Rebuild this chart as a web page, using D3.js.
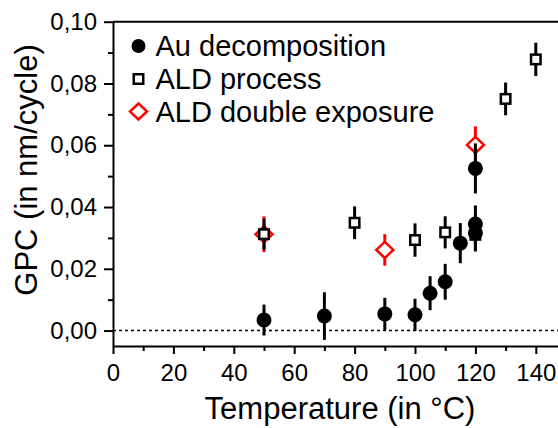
<!DOCTYPE html>
<html>
<head>
<meta charset="utf-8">
<script src="https://cdn.jsdelivr.net/npm/d3@7"></script>
<style>
  body { margin: 0; background: #fff; }
  svg { display: block; font-family: "Liberation Sans", Arial, sans-serif; }
</style>
</head>
<body>
<div id="wrapper"></div>
<script>
// data
const auTemp = [50, 70, 90, 100, 105, 110, 115, 120, 120, 120]
const auGpc  = [0.0034, 0.0047, 0.0054, 0.0051, 0.0121, 0.0158, 0.0283, 0.0525, 0.0345, 0.0316]
const auErr  = [0.005, 0.0077, 0.0052, 0.0052, 0.0055, 0.0058, 0.0065, 0.0081, 0.006, 0.006]

const aldTemp = [50, 80, 100, 110, 120, 130, 140]
const aldGpc  = [0.0312, 0.0349, 0.0293, 0.0318, 0.031, 0.075, 0.0878]
const aldErr  = [0.005, 0.0053, 0.0054, 0.0052, 0.005, 0.0053, 0.0054]

const dblTemp = [50, 90, 120]
const dblGpc  = [0.0312, 0.0261, 0.0601]
const dblErr  = [0.0058, 0.0051, 0.006]

const xTicks = [0, 20, 40, 60, 80, 100, 120, 140]
const xMinor = [10, 30, 50, 70, 90, 110, 130, 150]
const yTicks = [0, 0.02, 0.04, 0.06, 0.08, 0.10]
const yMinor = [0.01, 0.03, 0.05, 0.07, 0.09]

const legendLabels = ["Au decomposition", "ALD process", "ALD double exposure"]

function drawChart() {
    const dimensions = {
        width: 558,
        height: 428,
        margin: { top: 21.7, right: -8, bottom: 82, left: 113 },
    }
    dimensions.boundedWidth = dimensions.width - dimensions.margin.left - dimensions.margin.right
    dimensions.boundedHeight = dimensions.height - dimensions.margin.top - dimensions.margin.bottom

    const wrapper = d3.select("#wrapper")
        .append("svg")
        .attr("width", dimensions.width)
        .attr("height", dimensions.height)

    const bounds = wrapper.append("g")
        .attr("transform", `translate(${dimensions.margin.left}, ${dimensions.margin.top})`)

    const xScale = d3.scaleLinear()
        .domain([0, 150])
        .range([0, dimensions.boundedWidth])

    const yScale = d3.scaleLinear()
        .domain([-0.005, 0.10])
        .range([dimensions.boundedHeight, 0])

    const comma = d3.formatLocale({ decimal: ",", thousands: ".", grouping: [3], currency: ["", ""] })
    const yFormat = comma.format(".2f")

    // dotted zero line
    bounds.append("line")
        .attr("x1", 0).attr("x2", dimensions.boundedWidth)
        .attr("y1", yScale(0)).attr("y2", yScale(0))
        .attr("stroke", "#000")
        .attr("stroke-width", 1.5)
        .attr("stroke-dasharray", "3,3")

    // axes
    bounds.append("g")
        .attr("transform", `translate(0, ${dimensions.boundedHeight})`)
        .call(d3.axisBottom(xScale).tickValues(xTicks).tickSize(8).tickSizeOuter(0).tickPadding(10))
    bounds.append("g")
        .attr("transform", `translate(0, ${dimensions.boundedHeight})`)
        .call(d3.axisBottom(xScale).tickValues(xMinor).tickSize(5).tickSizeOuter(0).tickFormat(""))
        .call(g => g.select(".domain").remove())

    bounds.append("g")
        .call(d3.axisLeft(yScale).tickValues(yTicks).tickSize(9).tickSizeOuter(0).tickPadding(7).tickFormat(yFormat))
    bounds.append("g")
        .call(d3.axisLeft(yScale).tickValues(yMinor).tickSize(5).tickSizeOuter(0).tickFormat(""))
        .call(g => g.select(".domain").remove())

    bounds.selectAll(".domain, .tick line")
        .attr("stroke", "#000")
        .attr("stroke-width", 2)
    bounds.selectAll(".tick text")
        .attr("fill", "#000")
        .style("font-size", "24px")
        .style("font-family", "'Liberation Sans', Arial, sans-serif")

    // frame lines (top, right)
    bounds.append("line")
        .attr("x1", 0).attr("x2", dimensions.boundedWidth)
        .attr("y1", 0).attr("y2", 0)
        .attr("stroke", "#000")
        .attr("stroke-width", 2)
    bounds.append("line")
        .attr("x1", dimensions.boundedWidth).attr("x2", dimensions.boundedWidth)
        .attr("y1", 0).attr("y2", dimensions.boundedHeight)
        .attr("stroke", "#000")
        .attr("stroke-width", 2)

    // axis titles
    wrapper.append("text")
        .attr("x", 340)
        .attr("y", 419)
        .attr("text-anchor", "middle")
        .style("font-size", "31px")
        .text("Temperature (in °C)")

    wrapper.append("text")
        .attr("transform", "translate(37, 170) rotate(-90)")
        .attr("text-anchor", "middle")
        .style("font-size", "31px")
        .text("GPC (in nm/cycle)")

    // series
    function drawErrors(xs, ys, es, color) {
        bounds.append("g").selectAll("line")
            .data(xs)
            .join("line")
            .attr("x1", d => xScale(d))
            .attr("x2", d => xScale(d))
            .attr("y1", (d, i) => yScale(ys[i] - es[i]))
            .attr("y2", (d, i) => yScale(ys[i] + es[i]))
            .attr("stroke", color)
            .attr("stroke-width", 3)
    }

    const diamond = "M0,-8L8.5,0L0,8L-8.5,0Z"

    // ALD double exposure
    drawErrors(dblTemp, dblGpc, dblErr, "#ff0000")
    bounds.append("g").selectAll("path")
        .data(dblTemp)
        .join("path")
        .attr("d", diamond)
        .attr("transform", (d, i) => `translate(${xScale(d)}, ${yScale(dblGpc[i])})`)
        .attr("fill", "#fff")
        .attr("stroke", "#ff0000")
        .attr("stroke-width", 2.5)

    // ALD process
    drawErrors(aldTemp, aldGpc, aldErr, "#000")
    bounds.append("g").selectAll("rect")
        .data(aldTemp)
        .join("rect")
        .attr("x", d => xScale(d) - 4.75)
        .attr("y", (d, i) => yScale(aldGpc[i]) - 4.75)
        .attr("width", 9.5)
        .attr("height", 9.5)
        .attr("fill", "#fff")
        .attr("stroke", "#000")
        .attr("stroke-width", 2.5)

    // Au decomposition
    drawErrors(auTemp, auGpc, auErr, "#000")
    bounds.append("g").selectAll("circle")
        .data(auTemp)
        .join("circle")
        .attr("cx", d => xScale(d))
        .attr("cy", (d, i) => yScale(auGpc[i]))
        .attr("r", 7.5)
        .attr("fill", "#000")

    // legend
    const legend = wrapper.append("g")
    const rowY = [46, 79, 111.5]
    const rows = legend.selectAll("g")
        .data(legendLabels)
        .join("g")
        .attr("transform", (d, i) => `translate(138.5, ${rowY[i]})`)
    rows.filter((d, i) => i === 0).append("circle")
        .attr("r", 7).attr("fill", "#000")
    rows.filter((d, i) => i === 1).append("rect")
        .attr("x", -4.75).attr("y", -4.75).attr("width", 9.5).attr("height", 9.5)
        .attr("fill", "#fff").attr("stroke", "#000").attr("stroke-width", 2.5)
    rows.filter((d, i) => i === 2).append("path")
        .attr("d", diamond)
        .attr("fill", "#fff").attr("stroke", "#ff0000").attr("stroke-width", 2.5)
    rows.append("text")
        .attr("x", 17)
        .attr("y", 10)
        .style("font-size", "29px")
        .text(d => d)
}

drawChart()
</script>
</body>
</html>
